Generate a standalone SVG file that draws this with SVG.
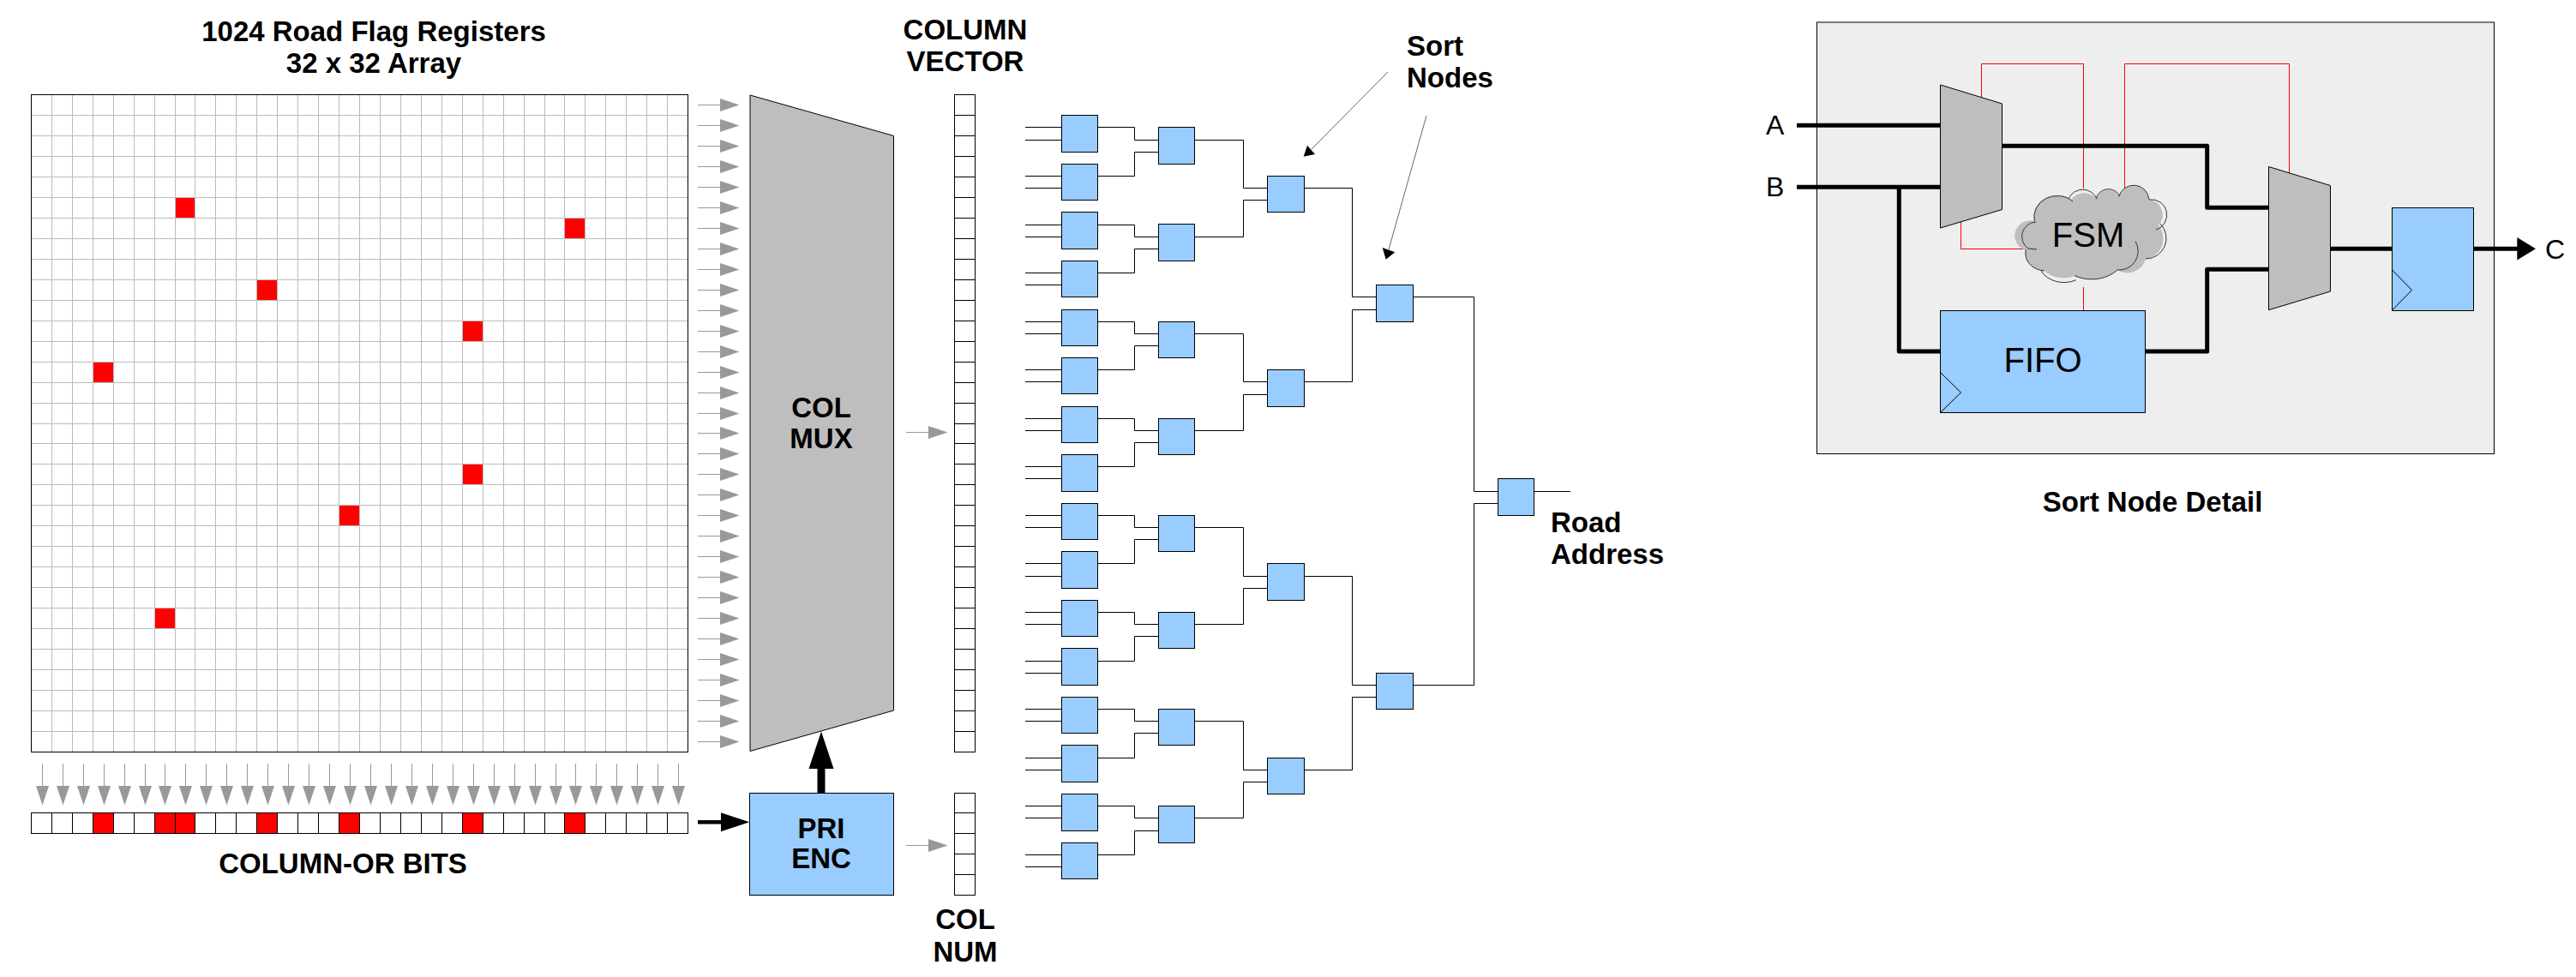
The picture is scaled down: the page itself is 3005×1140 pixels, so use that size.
<svg xmlns="http://www.w3.org/2000/svg" width="3005" height="1140" viewBox="0 0 3005 1140">
<style>
text{font-family:"Liberation Sans",Arial,sans-serif;fill:#000}
.b{font-weight:bold;font-size:33px}
.r{font-size:32px}
.big{font-size:40px}
.m{text-anchor:middle}
.box{fill:#9cf;stroke:#000;stroke-width:1}
.cell{fill:#fff;stroke:#000;stroke-width:1}
.sep{fill:none;stroke:#000;stroke-width:1}
.mux{fill:#bebebe;stroke:#000;stroke-width:1}
.wire{fill:none;stroke:#000;stroke-width:1}
.thick{fill:none;stroke:#000;stroke-width:5;stroke-linejoin:round}
.red{fill:none;stroke:#f00;stroke-width:1}
.gridl{fill:none;stroke:#bbb;stroke-width:1}
.flag{fill:#f00}
.ga{stroke:#999;stroke-width:1;fill:none}
.gh{fill:#999}
</style>
<defs>
<g id="ra"><path class="ga" d="M0 0H26"/><path class="gh" d="M26 -7.5L48.500 0L26 7.500Z"/></g>
<g id="da"><path class="ga" d="M0 0V26"/><path class="gh" d="M-7.500 26L7.500 26L0 48.500Z"/></g>
</defs>
<rect width="3005" height="1140" fill="#fff"/>

<g id="connectors">
<g id="row-arrows" transform="translate(814,0)">
<use href="#ra" y="122.500"/><use href="#ra" y="146.500"/><use href="#ra" y="170.500"/><use href="#ra" y="194.500"/><use href="#ra" y="218.500"/><use href="#ra" y="242.500"/><use href="#ra" y="266.500"/><use href="#ra" y="290.500"/><use href="#ra" y="314.500"/><use href="#ra" y="338.500"/><use href="#ra" y="362.500"/><use href="#ra" y="386.500"/><use href="#ra" y="410.500"/><use href="#ra" y="434.500"/><use href="#ra" y="458.500"/><use href="#ra" y="482.500"/><use href="#ra" y="505.500"/><use href="#ra" y="529.500"/><use href="#ra" y="553.500"/><use href="#ra" y="577.500"/><use href="#ra" y="601.500"/><use href="#ra" y="625.500"/><use href="#ra" y="649.500"/><use href="#ra" y="673.500"/><use href="#ra" y="697.500"/><use href="#ra" y="721.500"/><use href="#ra" y="745.500"/><use href="#ra" y="769.500"/><use href="#ra" y="793.500"/><use href="#ra" y="817.500"/><use href="#ra" y="841.500"/><use href="#ra" y="865.500"/>
</g>
<g id="col-arrows" transform="translate(0,891)">
<use href="#da" x="49.500"/><use href="#da" x="73.500"/><use href="#da" x="97.500"/><use href="#da" x="121.500"/><use href="#da" x="145.500"/><use href="#da" x="169.500"/><use href="#da" x="192.500"/><use href="#da" x="216.500"/><use href="#da" x="240.500"/><use href="#da" x="264.500"/><use href="#da" x="288.500"/><use href="#da" x="312.500"/><use href="#da" x="336.500"/><use href="#da" x="360.500"/><use href="#da" x="384.500"/><use href="#da" x="408.500"/><use href="#da" x="432.500"/><use href="#da" x="456.500"/><use href="#da" x="480.500"/><use href="#da" x="504.500"/><use href="#da" x="528.500"/><use href="#da" x="552.500"/><use href="#da" x="576.500"/><use href="#da" x="600.500"/><use href="#da" x="624.500"/><use href="#da" x="648.500"/><use href="#da" x="671.500"/><use href="#da" x="695.500"/><use href="#da" x="719.500"/><use href="#da" x="743.500"/><use href="#da" x="767.500"/><use href="#da" x="791.500"/>
</g>
<use href="#ra" x="1057" y="504.500"/>
<use href="#ra" x="1057" y="986.500"/>
<path d="M814 959.300H842" fill="none" stroke="#000" stroke-width="4.500"/>
<path d="M841 948.300L874.300 959.300L841 970.300Z"/>
<path d="M958 925.500V896" fill="none" stroke="#000" stroke-width="9"/>
<path d="M943.500 897L958 853.500L972.500 897Z"/>

<path id="sort-tree" class="wire" d="
M1196 148.500H1238.500M1196 163.500H1238.500M1196 205.500H1238.500M1196 219.500H1238.500
M1196 262.500H1238.500M1196 276.500H1238.500M1196 318.500H1238.500M1196 332.500H1238.500
M1196 375.500H1238.500M1196 389.500H1238.500M1196 431.500H1238.500M1196 445.500H1238.500
M1196 488.500H1238.500M1196 502.500H1238.500M1196 544.500H1238.500M1196 558.500H1238.500
M1196 601.500H1238.500M1196 615.500H1238.500M1196 657.500H1238.500M1196 672.500H1238.500
M1196 714.500H1238.500M1196 728.500H1238.500M1196 771.500H1238.500M1196 785.500H1238.500
M1196 827.500H1238.500M1196 841.500H1238.500M1196 884.500H1238.500M1196 898.500H1238.500
M1196 940.500H1238.500M1196 954.500H1238.500M1196 997.500H1238.500M1196 1011.500H1238.500
M1280.500 148.500H1323.500V163.500H1351.500M1280.500 205.500H1323.500V177.500H1351.500
M1280.500 262.500H1323.500V276.500H1351.500M1280.500 318.500H1323.500V290.500H1351.500
M1280.500 375.500H1323.500V389.500H1351.500M1280.500 431.500H1323.500V403.500H1351.500
M1280.500 488.500H1323.500V502.500H1351.500M1280.500 544.500H1323.500V516.500H1351.500
M1280.500 601.500H1323.500V615.500H1351.500M1280.500 657.500H1323.500V629.500H1351.500
M1280.500 714.500H1323.500V728.500H1351.500M1280.500 771.500H1323.500V742.500H1351.500
M1280.500 827.500H1323.500V841.500H1351.500M1280.500 884.500H1323.500V855.500H1351.500
M1280.500 940.500H1323.500V954.500H1351.500M1280.500 997.500H1323.500V969.500H1351.500
M1393.500 163.500H1450.500V219.500H1478.500M1393.500 276.500H1450.500V233.500H1478.500
M1393.500 389.500H1450.500V445.500H1478.500M1393.500 502.500H1450.500V460.500H1478.500
M1393.500 615.500H1450.500V672.500H1478.500M1393.500 728.500H1450.500V686.500H1478.500
M1393.500 841.500H1450.500V898.500H1478.500M1393.500 954.500H1450.500V912.500H1478.500
M1521.500 219.500H1577.500V346.500H1605.500M1521.500 445.500H1577.500V361.500H1605.500
M1521.500 672.500H1577.500V799.500H1605.500M1521.500 898.500H1577.500V813.500H1605.500
M1648.500 346.500H1719.500V573.500H1747.500M1648.500 799.500H1719.500V587.500H1747.500
M1789.500 573.500H1832"/>
<path d="M1619 84L1530 174M1664 135L1620 291" fill="none" stroke="#666" stroke-width="1"/>
<path d="M1520.700 182.700L1534 180L1525 169.700Z"/>
<path d="M1616.700 302.700L1612.700 289L1627.300 294.300Z"/>
</g>

<g id="flag-array">
<rect x="36.500" y="110.500" width="766" height="767" fill="#fff"/>
<path class="gridl" d="M60.500 110.500V877.500M84.500 110.500V877.500M108.500 110.500V877.500M132.500 110.500V877.500M156.500 110.500V877.500M180.500 110.500V877.500M204.500 110.500V877.500M227.500 110.500V877.500M251.500 110.500V877.500M275.500 110.500V877.500M299.500 110.500V877.500M323.500 110.500V877.500M347.500 110.500V877.500M371.500 110.500V877.500M395.500 110.500V877.500M419.500 110.500V877.500M443.500 110.500V877.500M467.500 110.500V877.500M491.500 110.500V877.500M515.500 110.500V877.500M539.500 110.500V877.500M563.500 110.500V877.500M587.500 110.500V877.500M611.500 110.500V877.500M635.500 110.500V877.500M658.500 110.500V877.500M682.500 110.500V877.500M706.500 110.500V877.500M730.500 110.500V877.500M754.500 110.500V877.500M778.500 110.500V877.500
M36.500 134.500H802.500M36.500 158.500H802.500M36.500 182.500H802.500M36.500 206.500H802.500M36.500 230.500H802.500M36.500 254.500H802.500M36.500 278.500H802.500M36.500 302.500H802.500M36.500 326.500H802.500M36.500 350.500H802.500M36.500 374.500H802.500M36.500 398.500H802.500M36.500 422.500H802.500M36.500 446.500H802.500M36.500 470.500H802.500M36.500 494.500H802.500M36.500 517.500H802.500M36.500 541.500H802.500M36.500 565.500H802.500M36.500 589.500H802.500M36.500 613.500H802.500M36.500 637.500H802.500M36.500 661.500H802.500M36.500 685.500H802.500M36.500 709.500H802.500M36.500 733.500H802.500M36.500 757.500H802.500M36.500 781.500H802.500M36.500 805.500H802.500M36.500 829.500H802.500M36.500 853.500H802.500"/>
<rect class="flag" x="205" y="231" width="22" height="23"/>
<rect class="flag" x="659" y="255" width="23" height="23"/>
<rect class="flag" x="300" y="327" width="23" height="23"/>
<rect class="flag" x="540" y="375" width="23" height="23"/>
<rect class="flag" x="109" y="423" width="23" height="23"/>
<rect class="flag" x="540" y="542" width="23" height="23"/>
<rect class="flag" x="396" y="590" width="23" height="23"/>
<rect class="flag" x="181" y="710" width="23" height="23"/>
<rect x="36.500" y="110.500" width="766" height="767" fill="none" stroke="#000" stroke-width="1"/>
<text class="b m" x="436" y="48">1024 Road Flag Registers</text>
<text class="b m" x="436" y="85">32 x 32 Array</text>
</g>

<g id="column-or-bits">
<rect class="cell" x="36.500" y="948.500" width="766" height="24"/>
<rect class="flag" x="108.500" y="948.500" width="24" height="24"/>
<rect class="flag" x="180.500" y="948.500" width="47" height="24"/>
<rect class="flag" x="299.500" y="948.500" width="24" height="24"/>
<rect class="flag" x="395.500" y="948.500" width="24" height="24"/>
<rect class="flag" x="539.500" y="948.500" width="24" height="24"/>
<rect class="flag" x="658.500" y="948.500" width="24" height="24"/>
<rect x="36.500" y="948.500" width="766" height="24" fill="none" stroke="#000" stroke-width="1"/>
<path class="sep" d="M60.500 948.500V972.500M84.500 948.500V972.500M108.500 948.500V972.500M132.500 948.500V972.500M156.500 948.500V972.500M180.500 948.500V972.500M204.500 948.500V972.500M227.500 948.500V972.500M251.500 948.500V972.500M275.500 948.500V972.500M299.500 948.500V972.500M323.500 948.500V972.500M347.500 948.500V972.500M371.500 948.500V972.500M395.500 948.500V972.500M419.500 948.500V972.500M443.500 948.500V972.500M467.500 948.500V972.500M491.500 948.500V972.500M515.500 948.500V972.500M539.500 948.500V972.500M563.500 948.500V972.500M587.500 948.500V972.500M611.500 948.500V972.500M635.500 948.500V972.500M658.500 948.500V972.500M682.500 948.500V972.500M706.500 948.500V972.500M730.500 948.500V972.500M754.500 948.500V972.500M778.500 948.500V972.500"/>
<text class="b m" x="400" y="1019">COLUMN-OR BITS</text>
</g>

<g id="col-mux">
<path class="mux" d="M875 111L1042.500 158.500V829L875 876.500Z"/>
<text class="b m" x="958" y="487">COL</text>
<text class="b m" x="958" y="523">MUX</text>
</g>

<g id="pri-enc">
<rect class="box" x="874.500" y="925.500" width="168" height="119"/>
<text class="b m" x="958" y="977.500">PRI</text>
<text class="b m" x="958" y="1013">ENC</text>
</g>

<g id="column-vector">
<rect class="cell" x="1113.500" y="110.500" width="24" height="767"/>
<path class="sep" d="M1113.500 134.500H1137.500M1113.500 158.500H1137.500M1113.500 182.500H1137.500M1113.500 206.500H1137.500M1113.500 230.500H1137.500M1113.500 254.500H1137.500M1113.500 278.500H1137.500M1113.500 302.500H1137.500M1113.500 326.500H1137.500M1113.500 350.500H1137.500M1113.500 374.500H1137.500M1113.500 398.500H1137.500M1113.500 422.500H1137.500M1113.500 446.500H1137.500M1113.500 470.500H1137.500M1113.500 494.500H1137.500M1113.500 517.500H1137.500M1113.500 541.500H1137.500M1113.500 565.500H1137.500M1113.500 589.500H1137.500M1113.500 613.500H1137.500M1113.500 637.500H1137.500M1113.500 661.500H1137.500M1113.500 685.500H1137.500M1113.500 709.500H1137.500M1113.500 733.500H1137.500M1113.500 757.500H1137.500M1113.500 781.500H1137.500M1113.500 805.500H1137.500M1113.500 829.500H1137.500M1113.500 853.500H1137.500"/>
<text class="b m" x="1126" y="45.700">COLUMN</text>
<text class="b m" x="1126" y="82.700">VECTOR</text>
</g>

<g id="col-num">
<rect class="cell" x="1113.500" y="925.500" width="24" height="119"/>
<path class="sep" d="M1113.500 948.500H1137.500M1113.500 972.500H1137.500M1113.500 996.500H1137.500M1113.500 1020.500H1137.500"/>
<text class="b m" x="1126" y="1084.300">COL</text>
<text class="b m" x="1126" y="1121.700">NUM</text>
</g>

<g id="sort-leaf-nodes">
<rect class="box" x="1238.500" y="134.500" width="42" height="43"/>
<rect class="box" x="1238.500" y="191.500" width="42" height="42"/>
<rect class="box" x="1238.500" y="247.500" width="42" height="43"/>
<rect class="box" x="1238.500" y="304.500" width="42" height="42"/>
<rect class="box" x="1238.500" y="361.500" width="42" height="42"/>
<rect class="box" x="1238.500" y="417.500" width="42" height="42"/>
<rect class="box" x="1238.500" y="474.500" width="42" height="42"/>
<rect class="box" x="1238.500" y="530.500" width="42" height="43"/>
<rect class="box" x="1238.500" y="587.500" width="42" height="42"/>
<rect class="box" x="1238.500" y="643.500" width="42" height="43"/>
<rect class="box" x="1238.500" y="700.500" width="42" height="42"/>
<rect class="box" x="1238.500" y="756.500" width="42" height="43"/>
<rect class="box" x="1238.500" y="813.500" width="42" height="42"/>
<rect class="box" x="1238.500" y="869.500" width="42" height="43"/>
<rect class="box" x="1238.500" y="926.500" width="42" height="43"/>
<rect class="box" x="1238.500" y="983.500" width="42" height="42"/>
</g>
<g id="sort-level2-nodes">
<rect class="box" x="1351.500" y="148.500" width="42" height="43"/>
<rect class="box" x="1351.500" y="261.500" width="42" height="43"/>
<rect class="box" x="1351.500" y="375.500" width="42" height="42"/>
<rect class="box" x="1351.500" y="488.500" width="42" height="42"/>
<rect class="box" x="1351.500" y="601.500" width="42" height="42"/>
<rect class="box" x="1351.500" y="714.500" width="42" height="42"/>
<rect class="box" x="1351.500" y="827.500" width="42" height="42"/>
<rect class="box" x="1351.500" y="940.500" width="42" height="43"/>
</g>
<g id="sort-level3-nodes">
<rect class="box" x="1478.500" y="205.500" width="43" height="42"/>
<rect class="box" x="1478.500" y="431.500" width="43" height="43"/>
<rect class="box" x="1478.500" y="657.500" width="43" height="43"/>
<rect class="box" x="1478.500" y="884.500" width="43" height="42"/>
</g>
<g id="sort-level4-nodes">
<rect class="box" x="1605.500" y="332.500" width="43" height="43"/>
<rect class="box" x="1605.500" y="785.500" width="43" height="42"/>
</g>
<g id="sort-root-node">
<rect class="box" x="1747.500" y="558.500" width="42" height="43"/>
</g>
<text class="b" x="1641" y="65">Sort</text>
<text class="b" x="1641" y="102">Nodes</text>
<text class="b" x="1809" y="620.700">Road</text>
<text class="b" x="1809" y="657.700">Address</text>

<g id="detail-panel">
<rect x="2119.500" y="26" width="790" height="503.500" fill="#eee" stroke="#000" stroke-width="1"/>
<text class="b m" x="2511" y="596.700">Sort Node Detail</text>
</g>

<g id="detail-connectors">
<path class="red" d="M2311.500 114V74.500H2430.500V220M2478.500 220V74.500H2670.500V202M2287.500 258V290.500H2366M2430.500 335V362"/>
<path class="thick" d="M2096 146.300H2263M2096 218.300H2263M2215.300 218.300V410H2263M2336 170.300H2574.700V242.300H2646M2502.500 410H2574.700V314.300H2646M2718.500 290.300H2790M2885.500 290.300H2938"/>
<path d="M2936.300 277L2958 290.300L2936.300 303.600Z"/>
</g>

<g id="detail-mux-a"><path class="mux" d="M2263.500 99L2335.500 121V244.500L2263.500 266Z"/></g>
<g id="detail-mux-b"><path class="mux" d="M2646.500 194.500L2718.500 216.500V340L2646.500 361.700Z"/></g>
<g id="detail-fsm">
<path fill="#bebebe" d="M2373 258A27 25 0 0 1 2416 233A18 18 0 0 1 2445 232A15 15 0 0 1 2472 229A18 18 0 0 1 2507 233A18 18 0 0 1 2518 263A24 24 0 0 1 2503 302A22 22 0 0 1 2470 315A39 30 0 0 1 2420 322A30 25 0 0 1 2385 316A24 20 0 0 1 2363 292A17 17 0 0 1 2373 258Z"/>
<path fill="none" stroke="#333" stroke-width="1" d="M2373.300 258.300A27 25 0 0 1 2418 235M2413 232A18 18 0 0 1 2446 232M2445 232A15 15 0 0 1 2473 229M2471.700 229.300A18 18 0 0 1 2507 233A18 18 0 0 1 2515 268M2520 261A24 24 0 0 1 2503 302M2491 281.700A22 22 0 0 1 2470 315M2470 315A39 30 0 0 1 2420 321.700M2421.700 326.700A30 25 0 0 1 2381 316M2385 316A24 20 0 0 1 2363 297V291M2376 291L2366 290A17 17 0 0 1 2375 259"/>
<text class="big m" x="2436" y="288.300">FSM</text>
</g>
<g id="detail-fifo">
<rect class="box" x="2263.500" y="362.500" width="239" height="119"/>
<path class="wire" d="M2263.500 434.500L2287.500 458L2263.500 481.500"/>
<text class="big m" x="2383" y="434.300">FIFO</text>
</g>
<g id="detail-reg">
<rect class="box" x="2790.500" y="242.500" width="95" height="120"/>
<path class="wire" d="M2790.500 315L2813.500 338.500L2790.500 362"/>
</g>
<text class="r" x="2060" y="157.300">A</text>
<text class="r" x="2060" y="229">B</text>
<text class="r" x="2969" y="301.500">C</text>
</svg>
